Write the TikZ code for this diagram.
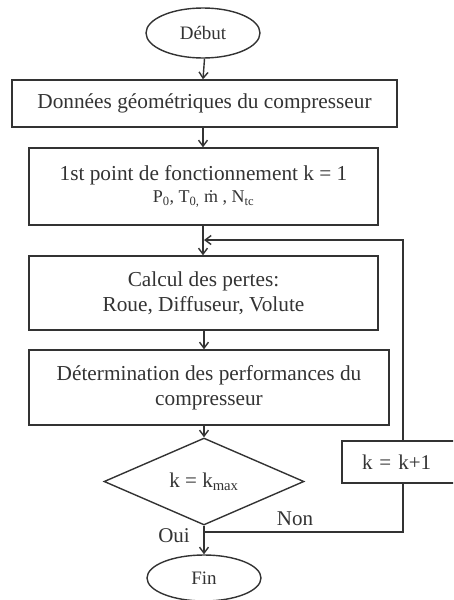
\documentclass[tikz,border=0pt]{standalone}
\usepackage{fontspec}
\setmainfont{Liberation Serif}
\usetikzlibrary{shapes.geometric,arrows.meta}
\definecolor{ink}{HTML}{333333}
\tikzset{
  box/.style={draw=ink, line width=1.4pt, rectangle, inner sep=0pt, align=center, text=ink,
    font=\fontsize{21.3}{25}\selectfont},
  term/.style={draw=ink, line width=1.4pt, ellipse, inner sep=0pt, text=ink,
    font=\fontsize{19}{22}\selectfont},
  dec/.style={draw=ink, line width=1.4pt, diamond, inner sep=0pt, text=ink,
    font=\fontsize{21}{25}\selectfont},
  lab/.style={text=ink, inner sep=0pt, font=\fontsize{21}{25}\selectfont},
  flow/.style={draw=ink, line width=1.4pt, -{Straight Barb[length=6pt,width=9pt]}},
  wire/.style={draw=ink, line width=1.4pt},
}
\begin{document}
\begin{tikzpicture}[x=1pt,y=-1pt]
\useasboundingbox (0,0) rectangle (453,600);
\clip (0,0) rectangle (453,600);
\node[term, minimum width=114pt, minimum height=50pt] (debut) at (203,33) {Début};
\node[box, minimum width=385pt, minimum height=47pt] (b1) at (204.5,103.5) {Données géométriques du compresseur};
\node[box, minimum width=349pt, minimum height=77pt] (b2) at (203.5,186.5)
  {1st point de fonctionnement k = 1\\[-3pt]{\fontsize{18}{20}\selectfont P\textsubscript{0}, T\textsubscript{0,} \.{m} , N\textsubscript{tc}}};
\node[box, minimum width=349pt, minimum height=74pt] (b3) at (203.5,293) {Calcul des pertes:\\Roue, Diffuseur, Volute};
\node[box, minimum width=360pt, minimum height=75pt] (b4) at (209,387.5) {Détermination des performances du\\compresseur};
\node[dec, minimum width=200pt, minimum height=71pt] (dia) at (204,481.5) {k = k\textsubscript{max}};
\node[term, minimum width=114pt, minimum height=46pt] (fin) at (204,578) {Fin};
\node[box, minimum width=122pt, minimum height=42pt, text width=82pt, inner xsep=20pt, align=left, font=\fontsize{21}{25}\selectfont] (kb) at (403,462) {k = k+1};
\node[lab] (non) at (295,519) {Non};
\node[lab] (oui) at (174,536) {Oui};
\coordinate (j) at (204,532);
\coordinate (m) at (204,240);
\draw[flow] (debut.south -| b1.north) -- (b1.north -| debut.south);
\draw[flow] (b1.south -| debut.south) -- (b2.north -| debut.south);
\draw[flow] (b2.south -| debut.south) -- (b3.north -| debut.south);
\draw[flow] (b3.south -| dia.north) -- (b4.north -| dia.north);
\draw[flow] (b4.south -| dia.north) -- (dia.north);
\draw[flow] (dia.south) -- (fin.north);
\draw[wire] (j) -| (kb.south);
\draw[flow] (kb.north) |- (m);
\end{tikzpicture}
\end{document}
